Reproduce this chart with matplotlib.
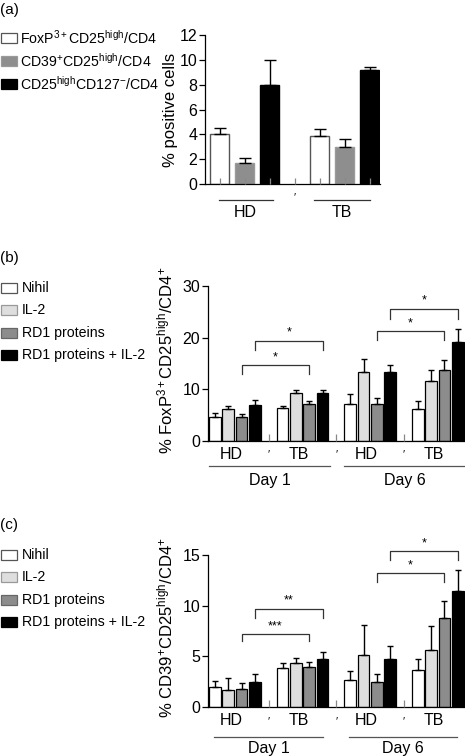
import numpy as np
import matplotlib
matplotlib.use('Agg')
import matplotlib.pyplot as plt
from matplotlib.patches import Rectangle

plt.rcParams['font.family'] = ['Liberation Sans', 'DejaVu Sans']
plt.rcParams['mathtext.fontset'] = 'custom'
plt.rcParams['mathtext.rm'] = 'Liberation Sans'
plt.rcParams['mathtext.it'] = 'Liberation Sans'

W, H = 465, 756

# ---- panel (a) data ----
a_series = [r'FoxP$^{3+}$CD25$^{\mathrm{high}}$/CD4',
            r'CD39$^{+}$CD25$^{\mathrm{high}}$/CD4',
            r'CD25$^{\mathrm{high}}$CD127$^{-}$/CD4']
a_groups = ['HD', 'TB']
a_mean = [[4.0, 1.7, 8.0],   # HD
          [3.85, 3.0, 9.15]]  # TB
a_top = [[4.5, 2.1, 10.0],
         [4.4, 3.6, 9.45]]

# ---- panels (b) and (c) ----
bc_series = ['Nihil', 'IL-2', 'RD1 proteins', 'RD1 proteins + IL-2']
bc_groups = ['HD', 'TB', 'HD', 'TB']
days = ['Day 1', 'Day 6']

b_mean = [[4.7, 6.2, 4.7, 7.0],
          [6.4, 9.2, 7.2, 9.2],
          [7.25, 13.4, 7.25, 13.3],
          [6.1, 11.6, 13.65, 19.15]]
b_top = [[5.35, 6.85, 5.25, 7.85],
         [6.85, 9.95, 7.7, 9.8],
         [9.05, 15.8, 8.4, 14.8],
         [7.8, 13.7, 15.6, 21.6]]
# brackets: (group1, group2, bar index, line height, leg bottom, label)
b_brackets = [(0, 1, 2, 14.7, 12.9, '*'),
              (0, 1, 3, 19.4, 17.6, '*'),
              (2, 3, 2, 21.3, 19.5, '*'),
              (2, 3, 3, 25.6, 23.7, '*')]

c_mean = [[1.97, 1.65, 1.78, 2.5],
          [3.82, 4.34, 3.95, 4.73],
          [2.7, 5.1, 2.43, 4.74],
          [3.65, 5.66, 8.78, 11.48]]
c_top = [[2.53, 2.85, 2.38, 3.3],
         [4.3, 4.85, 4.4, 5.4],
         [3.55, 8.06, 3.22, 6.0],
         [4.7, 7.96, 10.5, 13.55]]
c_brackets = [(0, 1, 2, 7.2, 6.5, '***'),
              (0, 1, 3, 9.7, 8.8, '**'),
              (2, 3, 2, 13.2, 12.3, '*'),
              (2, 3, 3, 15.4, 14.5, '*')]


def fbox(l, r, t, b):
    return [l / W, 1 - b / H, (r - l) / W, (b - t) / H]


def fig_legend(fig, y0, dy, labels, faces, edges, text_x):
    for k, lab in enumerate(labels):
        y = y0 + k * dy
        fig.patches.append(Rectangle((0.5 / W, 1 - (y + 5) / H), 16 / W, 10 / H,
                                     transform=fig.transFigure, facecolor=faces[k],
                                     edgecolor=edges[k], lw=0.9))
        fig.text(text_x / W, 1 - y / H, lab, fontsize=10.2, va='center', ha='left')


def style_axes(ax):
    for s in ['top', 'right']:
        ax.spines[s].set_visible(False)
    ax.spines['left'].set_linewidth(0.9)
    ax.spines['bottom'].set_linewidth(0.9)
    ax.tick_params(axis='y', direction='out', length=4, width=0.9, labelsize=11.5, pad=1.5)
    ax.tick_params(axis='x', direction='in', length=4, width=0.9, color='#888888',
                   labelbottom=False)
    ax.set_axisbelow(False)


fig = plt.figure(figsize=(W / 100, H / 100), dpi=100)

# ================= (a) =================
fig.text(0 / W, 1 - 10 / H, '(a)', fontsize=11, va='center')
a_faces = ['white', '#8e8e8e', 'black']
a_edges = ['#555555', '#9a9a9a', 'black']
fig_legend(fig, 38, 23, a_series, a_faces, a_edges, 20)

axa = fig.add_axes(fbox(205, 380, 35, 184))
style_axes(axa)
for g in range(2):
    for i in range(3):
        x = g * 4 + i
        axa.bar(x, a_mean[g][i], width=0.76, color=a_faces[i], edgecolor=a_edges[i],
                lw=1.0, zorder=1)
        axa.errorbar(x, a_mean[g][i], yerr=[[0], [a_top[g][i] - a_mean[g][i]]],
                     fmt='none', ecolor='black', elinewidth=1.0, capsize=4.5,
                     capthick=1.0, zorder=3)
axa.set_xlim(-0.58, 6.42)
axa.set_ylim(0, 12)
axa.set_yticks(range(0, 13, 2))
axa.set_xticks(range(7))
axa.set_ylabel('% positive cells', fontsize=12)
axa.yaxis.set_label_coords(-0.155, 0.5)
tr = axa.get_xaxis_transform()
for g, (x1, x2) in enumerate([(-0.02, 2.14), (3.78, 6.02)]):
    axa.plot([x1, x2], [-0.107, -0.107], transform=tr, color='#333333', lw=0.9,
             clip_on=False)
    axa.text((x1 + x2) / 2 - 0.02, -0.19, a_groups[g], transform=tr, fontsize=11.5,
             ha='center', va='center')
axa.text(3.0, -0.085, '\u2032', transform=tr, fontsize=8, ha='center', va='center')

# ================= (b) and (c) =================
bc_faces = ['white', '#dedede', '#8c8c8c', 'black']
bc_leg_edges = ['#555555', '#999999', '#666666', 'black']
GP = 5.07
WID = 0.88


def bar_x(g, i):
    return g * GP + i


def bc_panel(label, label_y, leg_y0, box, ylim, yticks, ylab, means, tops, brackets,
             under, y_grp, y_line, y_day):
    fig.text(0 / W, 1 - label_y / H, label, fontsize=11, va='center')
    fig_legend(fig, leg_y0, 22.3, bc_series, bc_faces, bc_leg_edges, 22)
    ax = fig.add_axes(fbox(*box))
    style_axes(ax)
    for g in range(4):
        for i in range(4):
            x = bar_x(g, i)
            ax.bar(x, means[g][i], width=WID, color=bc_faces[i], edgecolor='black',
                   lw=0.9, zorder=1)
            ax.errorbar(x, means[g][i], yerr=[[0], [tops[g][i] - means[g][i]]],
                        fmt='none', ecolor='black', elinewidth=1.0, capsize=2.3,
                        capthick=1.0, zorder=3)
    ax.set_xlim(-0.52, 3 * GP + 3 + 0.54)
    ax.set_ylim(*ylim)
    ax.set_yticks(yticks)
    gaps = [bar_x(g, 3) + (GP - 3) / 2 for g in range(3)]
    ax.set_xticks(gaps)
    ax.tick_params(axis='x', length=5)
    ax.set_ylabel(ylab, fontsize=12)
    ax.yaxis.set_label_coords(-0.125, 0.52)
    tr = ax.get_xaxis_transform()
    span = ylim[1] - ylim[0]
    for g1, g2, i, yl, yb, s in brackets:
        xa, xb = bar_x(g1, i), bar_x(g2, i)
        ax.plot([xa, xa, xb, xb], [yb, yl, yl, yb], color='#333333', lw=0.9,
                clip_on=False, zorder=4)
        ax.text((xa + xb) / 2, yl + span * 0.012, s, fontsize=9, ha='center',
                va='bottom')
    for g in range(4):
        ax.text(bar_x(g, 1.5) - 0.3, y_grp, bc_groups[g], transform=tr, fontsize=11.5,
                ha='center', va='center')
    for x in gaps:
        ax.text(x, y_grp, '\u2032', transform=tr, fontsize=8, ha='center', va='center')
    for d, (x1, x2) in enumerate(under):
        ax.plot([x1, x2], [y_line, y_line], transform=tr, color='#555555', lw=0.9,
                clip_on=False)
        ax.text((x1 + x2) / 2, y_day, days[d], transform=tr, fontsize=11.5,
                ha='center', va='center')
    return ax


bc_panel('(b)', 258, 288, (208, 465, 286, 441), (0, 30), [0, 10, 20, 30],
         r'% FoxP$^{3+}$CD25$^{\mathrm{high}}$/CD4$^{+}$', b_mean, b_top, b_brackets,
         [(-0.45, 8.63), (9.67, 18.75)], -0.084, -0.161, -0.252)

bc_panel('(c)', 525, 555, (208, 465, 555, 707), (0, 15), [0, 5, 10, 15],
         r'% CD39$^{+}$CD25$^{\mathrm{high}}$/CD4$^{+}$', c_mean, c_top, c_brackets,
         [(-0.07, 8.10), (10.05, 18.15)], -0.09, -0.2, -0.273)

fig.savefig('out.png', dpi=100)
